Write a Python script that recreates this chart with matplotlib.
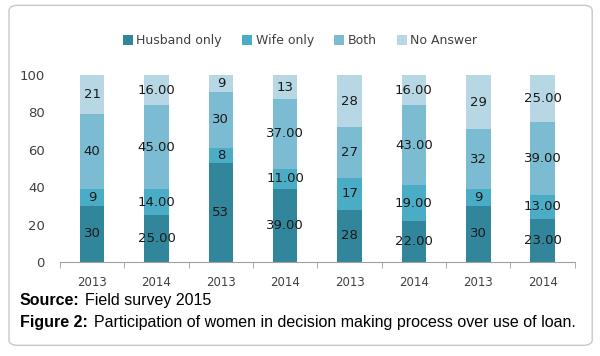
import matplotlib as mpl
mpl.use("Agg")
import matplotlib.pyplot as plt
from matplotlib.patches import FancyBboxPatch
import numpy as np

years = ["2013", "2014", "2013", "2014", "2013", "2014", "2013", "2014"]
husband = [30, 25, 53, 39, 28, 22, 30, 23]
wife = [9, 14, 8, 11, 17, 19, 9, 13]
both = [40, 45, 30, 37, 27, 43, 32, 39]
no_answer = [21, 16, 9, 13, 28, 16, 29, 25]
# the data labels as printed on the chart (some have two decimals, some not)
husband_lbl = ["30", "25.00", "53", "39.00", "28", "22.00", "30", "23.00"]
wife_lbl = ["9", "14.00", "8", "11.00", "17", "19.00", "9", "13.00"]
both_lbl = ["40", "45.00", "30", "37.00", "27", "43.00", "32", "39.00"]
no_answer_lbl = ["21", "16.00", "9", "13", "28", "16.00", "29", "25.00"]
series_names = ["Husband only", "Wife only", "Both", "No Answer"]
colors = ["#31869b", "#4bacc6", "#7bbcd2", "#b6d7e3"]

plt.rcParams["font.family"] = ["Liberation Sans", "DejaVu Sans"]

fig = plt.figure(figsize=(6, 3.56), dpi=100)
ax = fig.add_axes([0.1, 0.264, 0.858, 0.525])

x = np.arange(len(years))
bottom = np.zeros(len(years))
for name, vals, lbls, col in zip(series_names,
                                 [husband, wife, both, no_answer],
                                 [husband_lbl, wife_lbl, both_lbl, no_answer_lbl],
                                 colors):
    vals = np.array(vals, dtype=float)
    ax.bar(x, vals, 0.38, bottom=bottom, color=col, label=name, edgecolor="none")
    for i, v in enumerate(vals):
        ax.text(x[i], bottom[i] + v / 2, lbls[i], ha="center", va="center",
                fontsize=9.5, color="#1a1a1a", family="DejaVu Sans")
    bottom += vals

ax.set_xlim(-0.5, len(years) - 0.5)
ax.set_ylim(0, 100)
ax.set_yticks(range(0, 101, 20))
ax.set_xticks(x)
ax.set_xticklabels(years)
ax.set_xticks(np.arange(-0.5, len(years), 1), minor=True)
ax.tick_params(axis="x", which="major", length=0, pad=10, labelsize=8.5, colors="#404040")
ax.tick_params(axis="x", which="minor", length=4, color="#a0a0a0")
ax.tick_params(axis="y", length=0, labelsize=9.5, colors="#404040", pad=11)
for lab in ax.get_xticklabels() + ax.get_yticklabels():
    lab.set_family("DejaVu Sans")
for s in ["top", "right", "left"]:
    ax.spines[s].set_visible(False)
ax.spines["bottom"].set_color("#a0a0a0")

leg = fig.legend(loc="center", bbox_to_anchor=(0.5, 0.885), ncol=4, frameon=False,
                 handlelength=0.8, handleheight=0.8, handletextpad=0.3,
                 columnspacing=1.6, prop={"family": "DejaVu Sans", "size": 9})
for t in leg.get_texts():
    t.set_color("#404040")

box = FancyBboxPatch((0.015, 0.03), 0.972, 0.955, boxstyle="round,pad=0,rounding_size=0.015",
                     transform=fig.transFigure, facecolor="none", edgecolor="#c8c8c8", lw=1)
fig.patches.append(box)

fig.text(0.033, 0.155, "Source:", fontsize=11.5, fontweight="bold", va="center")
fig.text(0.141, 0.155, "Field survey 2015", fontsize=11.5, va="center")
fig.text(0.033, 0.095, "Figure 2:", fontsize=11.5, fontweight="bold", va="center")
fig.text(0.157, 0.095, "Participation of women in decision making process over use of loan.",
         fontsize=11.5, va="center")

plt.savefig("out.png", dpi=100)
